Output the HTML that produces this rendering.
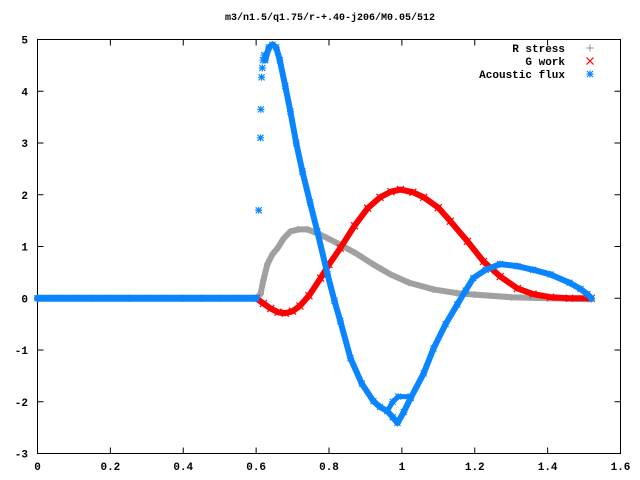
<!DOCTYPE html>
<html><head><meta charset="utf-8"><style>
html,body{margin:0;padding:0;background:#fff}
svg{display:block}
text{font-family:"Liberation Mono",monospace;font-size:11px;font-weight:bold;fill:#000}
</style></head><body>
<svg id="chart" width="640" height="480" viewBox="0 0 640 480" xmlns="http://www.w3.org/2000/svg">
<text x="330" y="20" text-anchor="middle" style="font-size:10px">m3/n1.5/q1.75/r-+.40-j206/M0.05/512</text>
<rect x="37.5" y="39.5" width="583" height="414" fill="none" stroke="#000" stroke-width="1"/>
<g id="axes"></g>
<g id="series"></g>
<g id="legend">
<text x="565" y="52" text-anchor="end">R stress</text>
<text x="565" y="65" text-anchor="end">G work</text>
<text x="565" y="78" text-anchor="end">Acoustic flux</text>
</g>
</svg>
<script>
const xTicks=[0,0.2,0.4,0.6,0.8,1,1.2,1.4,1.6];
const xTickLabels=["0","0.2","0.4","0.6","0.8","1","1.2","1.4","1.6"];
const yTicks=[-3,-2,-1,0,1,2,3,4,5];
const yTickLabels=["-3","-2","-1","0","1","2","3","4","5"];
const rStressX=[0.6,0.612,0.62,0.631,0.645,0.659,0.675,0.694,0.715,0.741,0.77,0.796,0.84,0.878,0.92,0.969,1.02,1.087,1.15,1.2,1.3,1.4,1.52];
const rStressY=[0,0.08,0.35,0.66,0.85,0.97,1.15,1.29,1.33,1.33,1.25,1.16,1.0,0.85,0.66,0.46,0.3,0.17,0.1,0.07,0.02,0,-0.02];
const gWorkX=[0.6,0.62,0.64,0.66,0.68,0.7,0.72,0.745,0.777,0.8,0.831,0.87,0.906,0.94,0.97,0.996,1.03,1.06,1.1,1.133,1.18,1.224,1.27,1.317,1.36,1.408,1.46,1.52];
const gWorkY=[0,-0.1,-0.2,-0.27,-0.29,-0.25,-0.15,0.05,0.39,0.65,0.97,1.4,1.74,1.95,2.06,2.1,2.05,1.95,1.75,1.49,1.1,0.71,0.42,0.19,0.08,0.02,0,0];
const fluxZeroX=[0,0.05,0.1,0.15,0.2,0.25,0.3,0.35,0.4,0.45,0.5,0.55,0.6];
const fluxZeroY=[0,0,0,0,0,0,0,0,0,0,0,0,0];
const fluxIsoX=[0.607,0.612,0.613,0.615,0.617,0.619,0.622];
const fluxIsoY=[1.7,3.1,3.65,4.27,4.45,4.6,4.7];
const fluxX=[0.625,0.635,0.645,0.655,0.665,0.68,0.694,0.71,0.727,0.748,0.768,0.796,0.815,0.831,0.859,0.89,0.922,0.94,0.96,0.975,0.988,1.005,1.024,1.06,1.087,1.12,1.152,1.175,1.196,1.23,1.27,1.317,1.36,1.408,1.46,1.49,1.509,1.52];
const fluxY=[4.6,4.85,4.9,4.85,4.6,4.1,3.61,3.0,2.45,1.85,1.29,0.46,-0.05,-0.44,-1.16,-1.65,-1.99,-2.1,-2.18,-2.3,-2.41,-2.2,-1.93,-1.45,-0.97,-0.5,-0.12,0.15,0.39,0.55,0.66,0.62,0.55,0.46,0.3,0.18,0.08,0];
const fluxLoopX=[0.96,0.975,0.99,1.024];
const fluxLoopY=[-2.18,-2.0,-1.9,-1.9];

const NS="http://www.w3.org/2000/svg";
const X0=37.5,X1=620.5,Y0=453.5,Y1=39.5;
function sx(v){return X0+(v-0)/(1.6-0)*(X1-X0);}
function sy(v){return Y0-(v-(-3))/(5-(-3))*(Y0-Y1);}
function mk(tag,attrs,parent){const e=document.createElementNS(NS,tag);for(const k in attrs)e.setAttribute(k,attrs[k]);parent.appendChild(e);return e;}
const axes=document.getElementById('axes');
xTicks.forEach((t,i)=>{
  const x=sx(t);
  const a=mk('line',{x1:x,x2:x,y1:Y0,y2:Y0-6,stroke:'#000'},axes);
  
  
  const b=mk('line',{x1:x,x2:x,y1:Y1,y2:Y1+6,stroke:'#000'},axes);
  
  
  const tx=mk('text',{x:x,y:470,'text-anchor':'middle'},axes);
  tx.textContent=xTickLabels[i];
  
  
});
yTicks.forEach((t,i)=>{
  const y=sy(t);
  const a=mk('line',{x1:X0,x2:X0+6,y1:y,y2:y,stroke:'#000'},axes);
  
  
  const b=mk('line',{x1:X1,x2:X1-6,y1:y,y2:y,stroke:'#000'},axes);
  
  
  const tx=mk('text',{x:28,y:y+4,'text-anchor':'end'},axes);
  tx.textContent=yTickLabels[i];
  
  
});
function marker(type,cx,cy,col,parent){
  let d;
  if(type==='+')d=`M${cx-3.5},${cy}h7M${cx},${cy-3.5}v7`;
  else if(type==='x')d=`M${cx-3.5},${cy-3.5}l7,7M${cx-3.5},${cy+3.5}l7,-7`;
  else d=`M${cx-3.5},${cy}h7M${cx},${cy-3.5}v7M${cx-3},${cy-3}l6,6M${cx-3},${cy+3}l6,-6`;
  return mk('path',{d:d,stroke:col,'stroke-width':1.2,fill:'none'},parent);
}
const series=document.getElementById('series');
function drawSeries(xs,ys,col,type,name,line,width){
  const g=mk('g',{},series);
  
  
  if(line){
    const pl=mk('polyline',{points:xs.map((x,i)=>sx(x)+','+sy(ys[i])).join(' '),fill:'none',stroke:col,'stroke-width':width,'stroke-linejoin':'round','stroke-linecap':'round'},g);
    
    
  }
  xs.forEach((x,i)=>{
    const m=marker(type,sx(x),sy(ys[i]),col,g);
    
    
  });
}
drawSeries(rStressX,rStressY,'#a0a0a0','+','r-stress-series',true,6);
drawSeries(gWorkX,gWorkY,'#ff0000','x','g-work-series',true,6);
drawSeries(fluxZeroX,fluxZeroY,'#0a85ff','*','acoustic-flux-zero',true,7);
drawSeries(fluxIsoX,fluxIsoY,'#0a85ff','*','acoustic-flux-isolated',false,0);
drawSeries(fluxX,fluxY,'#0a85ff','*','acoustic-flux-series',true,6);
drawSeries(fluxLoopX,fluxLoopY,'#0a85ff','*','acoustic-flux-loop',true,5);
const lg=document.getElementById('legend');
[['+','#a0a0a0',48,'legend-marker-r-stress'],['x','#ff0000',61,'legend-marker-g-work'],['*','#0a85ff',74,'legend-marker-acoustic-flux']].forEach(a=>{
  const m=marker(a[0],590,a[2],a[1],lg);
  
  
});
</script>
</body></html>
